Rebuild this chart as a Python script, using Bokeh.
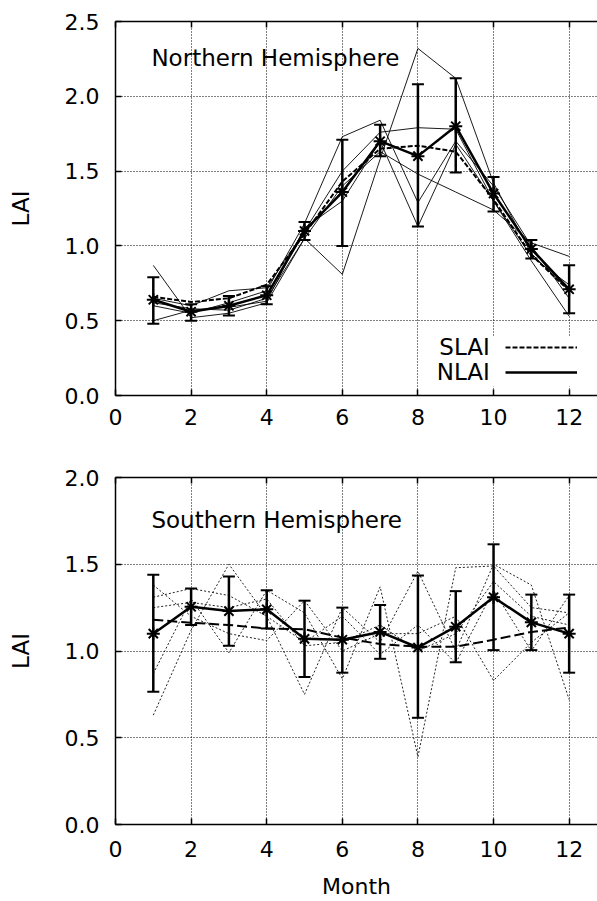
from bokeh.plotting import figure
from bokeh.models import (ColumnDataSource, Whisker, TeeHead, FixedTicker, PrintfTickFormatter,
                          LinearAxis, Label, Legend, LegendItem, BoxAnnotation, Range1d)
from bokeh.layouts import column
from bokeh.embed import file_html
from bokeh.resources import INLINE

FONT = "DejaVu Sans"

months = [1, 2, 3, 4, 5, 6, 7, 8, 9, 10, 11, 12]
x_ticks = [0, 2, 4, 6, 8, 10, 12]
nh_y_ticks = [0.0, 0.5, 1.0, 1.5, 2.0, 2.5]
sh_y_ticks = [0.0, 0.5, 1.0, 1.5, 2.0]

# ---------------- Northern Hemisphere ----------------
nh_nlai = [0.64, 0.56, 0.60, 0.67, 1.10, 1.36, 1.70, 1.60, 1.80, 1.35, 0.98, 0.71]
nh_nlai_hi = [0.79, 0.61, 0.665, 0.73, 1.16, 1.71, 1.81, 2.08, 2.12, 1.46, 1.04, 0.87]
nh_nlai_lo = [0.48, 0.50, 0.535, 0.61, 1.04, 1.00, 1.60, 1.13, 1.49, 1.23, 0.915, 0.55]
nh_slai = [0.66, 0.625, 0.65, 0.74, 1.08, 1.43, 1.65, 1.67, 1.63, 1.31, 0.94, 0.70]

nh_year1 = [0.62, 0.58, 0.57, 0.65, 1.05, 0.81, 1.58, 2.32, 2.12, 1.42, 0.95, 0.70]
nh_year2 = [0.60, 0.55, 0.62, 0.70, 1.15, 1.73, 1.84, 1.29, 1.70, 1.40, 1.00, 0.65]
nh_year3 = [0.65, 0.60, 0.70, 0.72, 1.10, 1.50, 1.76, 1.79, 1.78, 1.30, 0.93, 0.74]
nh_year4 = [0.87, 0.52, 0.55, 0.62, 1.05, 1.40, 1.63, 1.48, 1.36, 1.24, 1.02, 0.93]
nh_year5 = [0.50, 0.57, 0.59, 0.63, 1.12, 1.30, 1.70, 1.13, 1.68, 1.30, 0.90, 0.53]

# ---------------- Southern Hemisphere ----------------
sh_nlai = [1.10, 1.255, 1.23, 1.24, 1.07, 1.065, 1.11, 1.02, 1.14, 1.31, 1.165, 1.10]
sh_nlai_hi = [1.44, 1.36, 1.43, 1.35, 1.29, 1.25, 1.265, 1.435, 1.345, 1.615, 1.325, 1.325]
sh_nlai_lo = [0.765, 1.15, 1.03, 1.13, 0.85, 0.875, 0.955, 0.615, 0.935, 1.005, 1.005, 0.875]
sh_slai = [1.18, 1.163, 1.15, 1.13, 1.125, 1.077, 1.04, 1.025, 1.025, 1.065, 1.11, 1.135]

sh_year1 = [0.63, 1.12, 1.50, 1.20, 0.75, 1.25, 1.05, 1.46, 1.00, 1.50, 1.38, 0.72]
sh_year2 = [0.87, 1.30, 0.99, 1.35, 1.22, 0.84, 1.37, 0.39, 1.48, 1.49, 1.25, 1.22]
sh_year3 = [1.38, 1.20, 1.10, 1.06, 1.29, 1.00, 1.10, 1.10, 1.20, 0.83, 1.05, 1.22]
sh_year4 = [1.31, 1.36, 1.32, 1.20, 1.05, 1.20, 0.98, 1.15, 0.93, 1.35, 1.00, 1.32]
sh_year5 = [1.25, 1.28, 1.25, 1.30, 1.03, 1.05, 1.15, 1.00, 1.10, 1.40, 1.20, 1.15]


def make_fig(height, ymax, yticks, b_top, b_bottom, x_standoff):
    p = figure(width=597, height=height, x_range=Range1d(0, 12.75), y_range=Range1d(0, ymax),
               output_backend="svg", toolbar_location=None, title=None,
               min_border_left=115, min_border_right=0,
               min_border_top=b_top, min_border_bottom=b_bottom)
    p.outline_line_color = None
    p.background_fill_color = "white"
    p.border_fill_color = "white"

    p.xaxis.ticker = FixedTicker(ticks=x_ticks)
    p.yaxis.ticker = FixedTicker(ticks=yticks)
    p.yaxis.formatter = PrintfTickFormatter(format="%.1f")
    for ax in (p.xaxis, p.yaxis):
        ax.axis_line_width = 1.5
        ax.axis_line_color = "black"
        ax.major_tick_in = 6
        ax.major_tick_out = 0
        ax.major_tick_line_width = 1.5
        ax.minor_tick_line_color = None
        ax.major_label_text_font = FONT
        ax.major_label_text_font_size = "22px"
        ax.major_label_text_color = "black"
        ax.axis_label_text_font = FONT
        ax.axis_label_text_font_style = "normal"
        ax.axis_label_text_color = "black"
    p.xaxis.major_label_standoff = x_standoff
    p.yaxis.major_label_standoff = 16
    p.yaxis.axis_label = "LAI"
    p.yaxis.axis_label_text_font_size = "23px"
    p.yaxis.axis_label_standoff = 28

    top = LinearAxis(ticker=FixedTicker(ticks=x_ticks), major_label_text_font_size="1px",
                     major_label_text_color=None, major_tick_in=6, major_tick_out=0,
                     major_label_standoff=0, axis_line_width=1.5, major_tick_line_width=1.5,
                     minor_tick_line_color=None)
    p.add_layout(top, "above")

    for g in (p.xgrid, p.ygrid):
        g.grid_line_color = "black"
        g.grid_line_dash = "1 2"
        g.grid_line_width = 1
    return p


def add_mean(p, nlai, hi, lo, slai, dash):
    src = ColumnDataSource(dict(x=months, upper=hi, lower=lo))
    w = Whisker(source=src, base="x", upper="upper", lower="lower", line_width=2.5,
                upper_head=TeeHead(size=12, line_width=2), lower_head=TeeHead(size=12, line_width=2))
    w.level = "annotation"
    p.add_layout(w)
    rs = p.line(months, slai, line_color="black", line_width=2, line_dash=dash)
    rn = p.line(months, nlai, line_color="black", line_width=2.5)
    p.scatter(months, nlai, marker="asterisk", size=13, line_width=2, line_color="black")
    return rs, rn


# ---------------- top figure ----------------
p1 = make_fig(437, 2.5, nh_y_ticks, 21, 42, 13)
for yr in (nh_year1, nh_year2, nh_year3, nh_year4, nh_year5):
    p1.line(months, yr, line_color="black", line_width=0.9)
rs, rn = add_mean(p1, nh_nlai, nh_nlai_hi, nh_nlai_lo, nh_slai, "5 2")

p1.add_layout(BoxAnnotation(left=8.2, bottom=0.06, top=0.394, fill_color="white",
                            fill_alpha=1, line_color=None))
legend = Legend(items=[LegendItem(label=" ", renderers=[rs]), LegendItem(label=" ", renderers=[rn])],
                location=(390, 13), glyph_width=72, glyph_height=20, spacing=5, padding=0, margin=0,
                label_standoff=0, label_width=0, label_height=20, label_text_font_size="1px",
                border_line_color=None, background_fill_alpha=0)
p1.add_layout(legend)
p1.add_layout(Label(x=0.95, y=2.257, text="Northern Hemisphere", text_font=FONT, text_color="black",
                    text_font_size="23px", text_align="left", text_baseline="alphabetic"))
p1.add_layout(Label(x=9.9, y=0.327, text="SLAI", text_font=FONT, text_color="black",
                    text_font_size="23px", text_align="right", text_baseline="alphabetic"))
p1.add_layout(Label(x=9.9, y=0.154, text="NLAI", text_font=FONT, text_color="black",
                    text_font_size="23px", text_align="right", text_baseline="alphabetic"))

# ---------------- bottom figure ----------------
p2 = make_fig(464, 2.0, sh_y_ticks, 40, 76, 16)
for yr in (sh_year1, sh_year2, sh_year3, sh_year4, sh_year5):
    p2.line(months, yr, line_color="#222222", line_width=1, line_dash="2 2")
add_mean(p2, sh_nlai, sh_nlai_hi, sh_nlai_lo, sh_slai, "10 4")
p2.add_layout(Label(x=0.95, y=1.757, text="Southern Hemisphere", text_font=FONT, text_color="black",
                    text_font_size="23px", text_align="left", text_baseline="alphabetic"))
bottom_axis = p2.below[0]
bottom_axis.axis_label = "Month"
bottom_axis.axis_label_text_font_size = "22px"
bottom_axis.axis_label_standoff = 14

layout = column(p1, p2, spacing=0)
open("out.html", "w").write(file_html(layout, INLINE))
